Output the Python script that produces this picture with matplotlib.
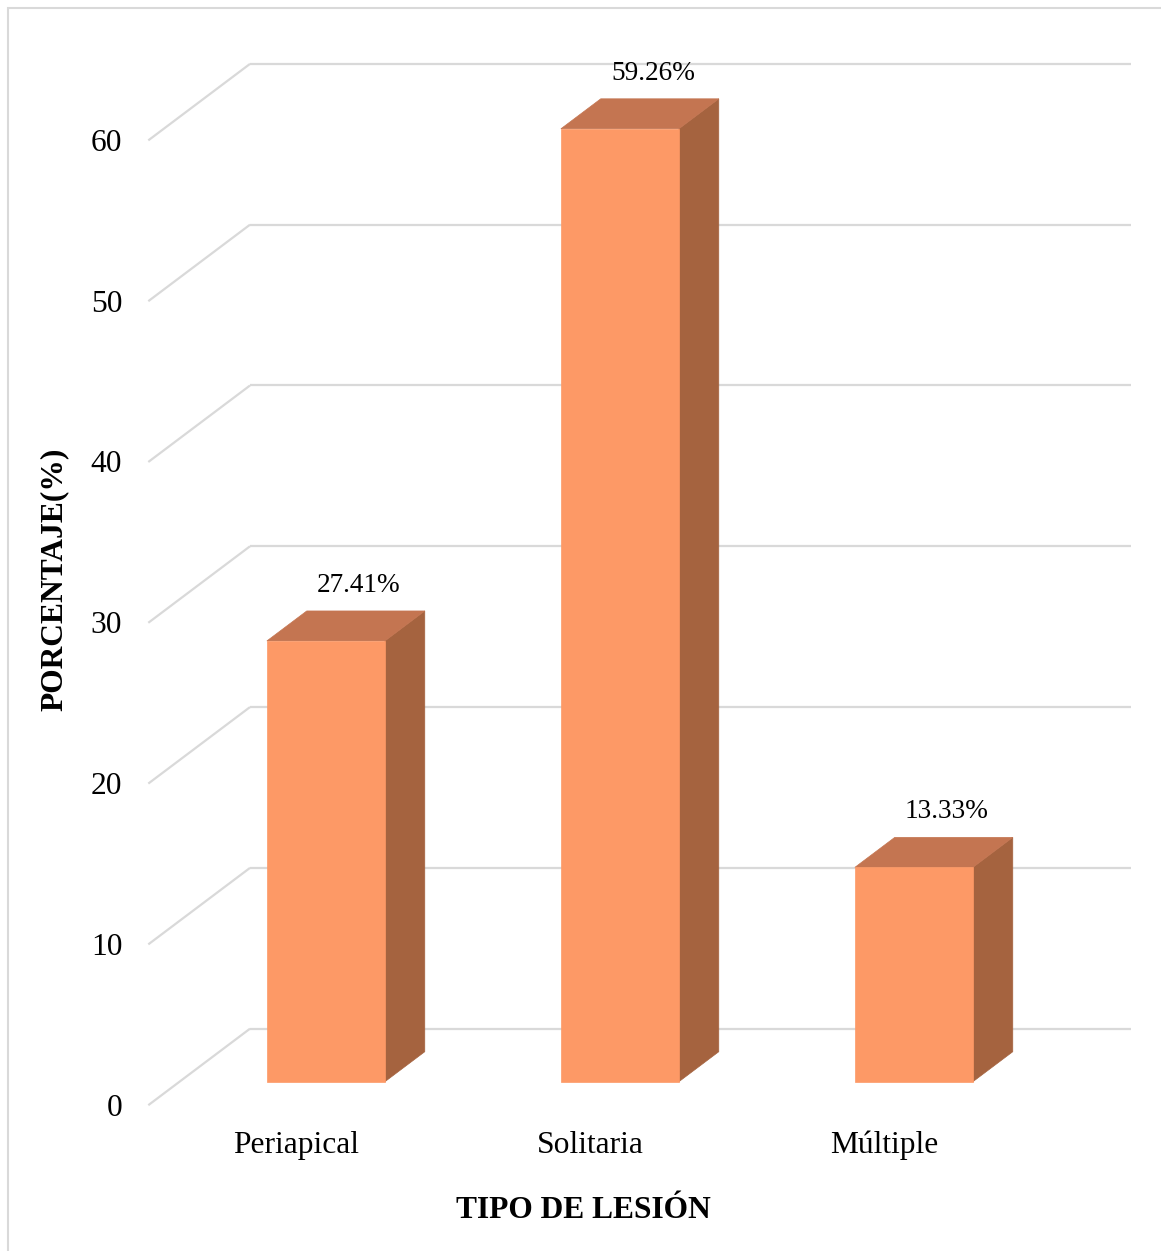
import matplotlib
matplotlib.use("Agg")
import matplotlib.pyplot as plt
from matplotlib.patches import Polygon, Rectangle

# Data
categories = ["Periapical", "Solitaria", "Múltiple"]
values = [27.41, 59.26, 13.33]
value_labels = ["27.41%", "59.26%", "13.33%"]
y_ticks = [0, 10, 20, 30, 40, 50, 60]
x_title = "TIPO DE LESIÓN"
y_title = "PORCENTAJE(%)"

# Figure / scale setup (pixels per unit)
W, H, DPI = 1161, 1251, 100
PX_CAT = 294.0        # pixels per category step
PX_VAL = 16.08        # pixels per percentage point
X0_PX, Y0_PX = 325.9, 1081.7   # pixel position of first bar centre / zero (bar front plane)

# Depth of the pseudo-3D box (front floor edge -> back wall) in data units
DX = 101.7 / PX_CAT
DY = 76.5 / PX_VAL
T_FRONT = 0.307       # bar front plane depth fraction
T_BAR = 0.392         # bar depth fraction
HALF_W = 0.2007       # half bar width (category units)
WALL_LEFT = (250 - X0_PX) / PX_CAT
WALL_RIGHT = (1131 - X0_PX) / PX_CAT

FONT = "Liberation Serif"
FS_TICK = 22.7
FS_LABEL = 19.6
GRID_C = "#D9D9D9"
C_FRONT = "#FD9966"
C_TOP = "#C47551"
C_SIDE = "#A5633F"

fig = plt.figure(figsize=(W / DPI, H / DPI), dpi=DPI)
fig.patch.set_facecolor("white")
ax = fig.add_axes([0, 0, 1, 1])
ax.set_xlim(-X0_PX / PX_CAT, (W - X0_PX) / PX_CAT)
ax.set_ylim((Y0_PX - H) / PX_VAL, Y0_PX / PX_VAL)
ax.axis("off")

# offsets from the bar front plane to the back wall and to the front floor edge
back_dx, back_dy = (1 - T_FRONT) * DX, (1 - T_FRONT) * DY
front_dx, front_dy = -T_FRONT * DX, -T_FRONT * DY

# Gridlines: back wall horizontals + left wall diagonals
for v in y_ticks:
    yb = v + back_dy
    ax.plot([WALL_LEFT, WALL_RIGHT], [yb, yb], color=GRID_C, lw=1.6,
            solid_capstyle="butt", zorder=1)
    ax.plot([WALL_LEFT - DX, WALL_LEFT], [yb - DY, yb], color=GRID_C, lw=1.6,
            solid_capstyle="butt", zorder=1)
    # tick label at the front edge
    ax.text(WALL_LEFT - DX - 26 / PX_CAT, v + front_dy - 10.5 / PX_VAL, str(v),
            ha="right", va="baseline", fontsize=FS_TICK, family=FONT, color="black")

# Bars
bdx, bdy = T_BAR * DX, T_BAR * DY
for i, (v, lab) in enumerate(zip(values, value_labels)):
    l, r = i - HALF_W, i + HALF_W
    side = Polygon([(r, 0), (r, v), (r + bdx, v + bdy), (r + bdx, bdy)],
                   closed=True, facecolor=C_SIDE, edgecolor=C_SIDE, lw=0.5, zorder=3)
    top = Polygon([(l, v), (r, v), (r + bdx, v + bdy), (l + bdx, v + bdy)],
                  closed=True, facecolor=C_TOP, edgecolor=C_TOP, lw=0.5, zorder=3)
    ax.add_patch(side)
    ax.add_patch(top)
    ax.bar(i, v, width=2 * HALF_W, bottom=0, color=C_FRONT, edgecolor=C_FRONT,
           lw=0.5, zorder=4)
    ax.text(i + 33 / PX_CAT, v + 3.05, lab, ha="center", va="baseline",
            fontsize=FS_LABEL, family=FONT, color="black", zorder=5)
    ax.text(i - 30 / PX_CAT, (Y0_PX - 1152.7) / PX_VAL, categories[i],
            ha="center", va="baseline", fontsize=FS_TICK, family=FONT, color="black")

# Axis titles
ax.text((583.5 - X0_PX) / PX_CAT, (Y0_PX - 1218.3) / PX_VAL, x_title,
        ha="center", va="baseline", fontsize=FS_TICK, family=FONT,
        fontweight="bold", color="black")
fig.text(54 / W, 1 - 579.5 / H, y_title, rotation=90, ha="center", va="center",
         fontsize=FS_TICK, family=FONT, fontweight="bold", color="black")

# Outer frame (only top and left edges fall inside the image)
fig.patches.append(Rectangle((8 / W, -0.1), 1.2, 1.1 - 8 / H,
                             transform=fig.transFigure, fill=False,
                             edgecolor="#D9D9D9", lw=1.5))

fig.savefig("out.png", dpi=DPI, facecolor="white")
